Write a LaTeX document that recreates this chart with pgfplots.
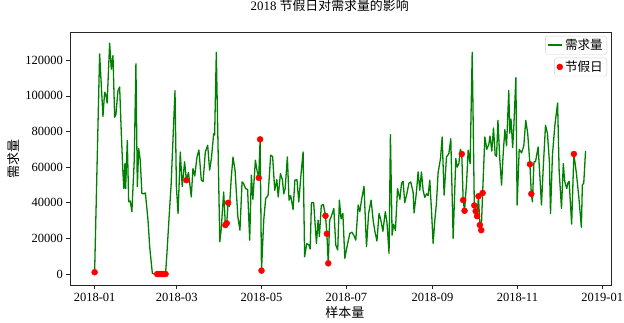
\documentclass[border=0pt]{standalone}
\usepackage{fontspec}
\setmainfont{Liberation Serif}
\newfontfamily\cjk{Noto Sans CJK SC}
\usepackage{pgfplots}
\usepackage{pgfplotstable}
\pgfplotsset{compat=1.18}
\definecolor{mplgreen}{RGB}{0,128,0}

\pgfplotstableread{
d v
0 1000
3.6 123600
6 88500
7.2 102000
8 101000
9 96000
10.8 129600
12 115000
13.2 122700
14.4 88000
15.3 89500
16.8 103000
18 105000
19.2 78800
20.4 56400
21 48000
21.8 62000
22.3 48000
23.5 75000
24.5 40500
25.6 41000
26.8 35000
28.5 63900
29.7 118000
30.7 49000
31.7 70400
32.8 64000
34 45200
35.2 45000
36.5 45500
38.4 30200
39.6 15300
41.5 500
43 0
44 0
45 0
46 0
47 0
48 0
49 0
50 0
51 0
52 11600
54 37700
55 50000
57.8 103000
58.8 49000
60 34000
61.6 68500
63 49000
64.7 63000
66 52700
67.5 57000
69.5 43300
70.7 59200
72 55000
73.6 65700
75 69600
76.7 52700
78 52000
79.6 68500
81.3 72300
82.7 58300
84 65000
85.6 78800
86.3 78000
87.5 124500
90 18100
91 25000
92.8 46100
94 27500
95 28500
96 40000
97 38000
98.3 54500
99.5 65700
101 58000
103 32100
104.5 24600
106 51700
107 51000
108.5 48000
110 47500
111.5 19000
112.7 55500
113.8 42000
115.6 63900
116.8 58000
118 54000
119 75600
120 1900
121.6 30200
123 42400
124.7 44000
126.6 66700
128 66000
129.5 47000
131 53000
132 43300
133.6 56400
135 53000
136 45000
137 48000
138.6 65700
139.8 41400
141 44000
142.7 36200
144 52700
145.5 53000
146.8 40500
148.5 57000
149.9 68500
151 9700
152.5 17000
154 16500
155 14000
155.9 40000
157.5 40000
159.5 17200
160.7 30200
161.6 21000
163 38500
164.5 39000
166 32700
167 22600
168 6000
169 30000
170.5 33000
172 36800
173.4 16200
174.8 13500
176 41500
177.2 31000
178.5 34000
179.9 8800
181 13500
182.2 18000
183.5 22800
185 23500
186.5 21500
187.8 19000
189.5 38700
190.7 35000
191.9 41500
193.7 49300
195.5 15300
197 34000
198.8 41500
200.3 30000
201.5 24000
203 18500
204.5 34000
205.6 31000
207.3 24000
209 35000
210.2 29000
211.7 11600
212.7 78300
213.9 21800
215 28000
216.3 24500
217.8 48000
219.5 42000
220.7 51000
221.8 52100
223 40000
224.5 45000
226 51000
227.3 51700
229 46000
229.7 34300
231.4 46000
232.6 57300
233.8 47000
235 57300
236.2 47000
237.4 43000
238.7 45000
239.8 44000
241 52700
242.2 36000
243.4 17200
244.6 30000
245.8 40000
247 57000
248.7 64800
249.9 76900
251.3 44300
253 65700
254.7 67600
256.1 76000
257.8 20000
259.7 64800
260.7 60000
261.9 62000
263 70000
264 67400
265 41500
266 35500
267.5 52000
268.6 69500
270 62000
271.5 124500
272.2 85000
273 38500
274 35300
275 32500
276 43700
277 27500
278 24600
279 45500
280.6 76900
282 70000
283.5 73000
284.3 77500
285.6 69000
286.8 82000
288 67000
289 66000
290 86300
291.3 65000
292.6 49900
293.8 68000
295 81000
296.2 72000
297.8 103000
298.5 79000
299.4 87000
300.6 71000
301.5 84000
302.9 110200
303.8 38700
305.3 70000
307 68000
308.6 72000
310 86300
311.4 79000
313 61600
314 45000
314.8 40500
315.9 63000
317 63000
318.9 71300
320.3 53000
321.3 38700
322.6 60000
324.2 83500
325.6 79000
327 63000
327.8 34000
329.2 67000
331 84000
332.9 96000
334 58000
335.7 36800
337 62000
338 52000
339.5 48000
340.2 51000
341.2 52000
343 28000
344.6 67400
346.5 56000
348.3 42000
350 26200
350.7 50000
351.7 51000
353 69100
}\demand

\pgfplotstableread{
d v
0 1000
45 0
46 0
47 0
48 0
49 0
50 0
51 0
66 52700
94 27500
95 28500
96 40000
118 54000
119 75600
120 1900
166 32700
167 22600
168 6000
264 67400
265 41500
266 35500
273 38500
274 35300
275 32500
276 43700
277 27500
278 24600
279 45500
313 61600
314 45000
344.6 67400
}\holiday

\begin{document}
\begin{tikzpicture}
\path[use as bounding box] (0,0) rectangle (624pt,323pt);
\pgfplotsset{
  common/.style={
    scale only axis,
    width=541pt, height=253.4pt,
    at={(70pt,37.3pt)}, anchor=south west,
    xmin=-17.7, xmax=371.3,
    ymin=-6550, ymax=135700,
  },
  legstyle/.style={
    legend cell align=left,
    legend style={font=\cjk\fontsize{12.6}{14}\selectfont, draw=black!18, rounded corners=2pt,
      inner xsep=2pt, inner ysep=1pt, row sep=0pt, anchor=north east},
  },
}
\begin{axis}[common, legstyle,
  axis line style={black!85, line width=0.7pt},
  tick align=outside, tick pos=left,
  major tick length=3.5pt,
  tick style={black!85, line width=0.7pt},
  scaled y ticks=false,
  xtick={0,59,120,181,243,304,365},
  xticklabels={2018-01,2018-03,2018-05,2018-07,2018-09,2018-11,2019-01},
  ytick={0,20000,40000,60000,80000,100000,120000},
  yticklabels={0,20000,40000,60000,80000,100000,120000},
  ticklabel style={font=\fontsize{12.5}{14}\selectfont},
  title={2018 {\cjk 节假日对需求量的影响}},
  title style={font=\fontsize{12.9}{15}\selectfont, at={(axis description cs:0.48,1.08)}, anchor=center},
  xlabel={\cjk 样本量},
  xlabel style={font=\fontsize{13}{14}\selectfont, at={(axis description cs:0.508,-0.104)}, anchor=center},
  ylabel={\cjk 需求量},
  ylabel style={font=\fontsize{13}{14}\selectfont, at={(axis description cs:-0.105,0.5)}, anchor=center},
  legend style={at={(axis description cs:0.9926,0.9854)}},
]
\addplot[color=mplgreen, line width=1.3pt, line join=round,
  legend image code/.code={\path[draw=mplgreen, line width=1.6pt] (0pt,0pt) -- (14pt,0pt);}]
  table[x=d,y=v] {\demand};
\addlegendentry{需求量}
\end{axis}
\begin{axis}[common, legstyle, hide axis,
  legend style={at={(axis description cs:0.9926,0.8998)}},
]
\addplot[only marks, mark=*, mark size=3pt, color=red,
  legend image code/.code={\path[fill=red] (8pt,0pt) circle (3pt);}]
  table[x=d,y=v] {\holiday};
\addlegendentry{节假日}
\end{axis}
\end{tikzpicture}
\end{document}
